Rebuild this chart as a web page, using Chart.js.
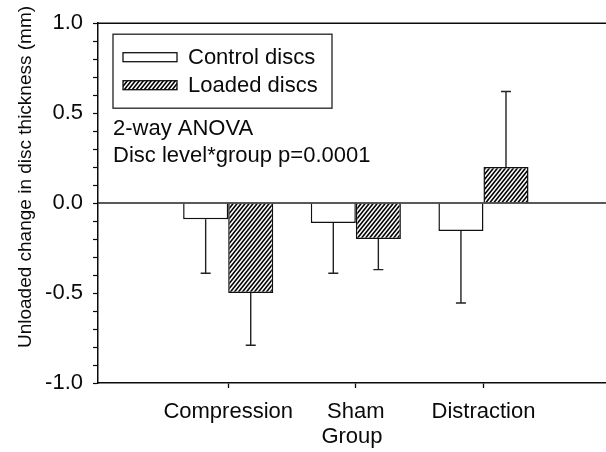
<!DOCTYPE html>
<html>
<head>
<meta charset="utf-8">
<script src="https://cdn.jsdelivr.net/npm/chart.js@4"></script>
<style>
  html, body { margin: 0; padding: 0; background: #ffffff; }
  #wrap { width: 606px; height: 452px; }
</style>
</head>
<body>
<div id="wrap"><canvas id="c" width="606" height="452"></canvas></div>
<script>
// ---- data ----
const categories = ['Compression', 'Sham', 'Distraction'];
const categoryPositions = [1, 2, 3];
const seriesLabels = ['Control discs', 'Loaded discs'];
const controlValues = [-0.09, -0.11, -0.155];
const controlErrors = [0.30, 0.28, 0.40];
const loadedValues = [-0.50, -0.20, 0.20];
const loadedErrors = [0.29, 0.17, 0.42];
const yMajorTicks = [-1.0, -0.5, 0.0, 0.5, 1.0];
const annotationLines = ['2-way ANOVA', 'Disc level*group p=0.0001'];
const yTitle = 'Unloaded change in disc thickness (mm)';
const xTitle = 'Group';

const FONT = '"Liberation Sans", Arial, Helvetica, sans-serif';
const INK = '#0a0a0a';

function makeHatch() {
  const w = 4, h = 5;
  const c = document.createElement('canvas');
  c.width = w; c.height = h;
  const g = c.getContext('2d');
  g.fillStyle = '#ffffff';
  g.fillRect(0, 0, w, h);
  g.strokeStyle = '#000000';
  g.lineWidth = 1.6;
  g.beginPath();
  g.moveTo(-w, 2 * h); g.lineTo(2 * w, -h);
  g.moveTo(-2 * w, 2 * h); g.lineTo(w, -h);
  g.moveTo(0, 2 * h); g.lineTo(3 * w, -h);
  g.stroke();
  return g.createPattern(c, 'repeat');
}
const hatch = makeHatch();

const isMajor = v => yMajorTicks.some(m => Math.abs(m - v) < 1e-6);

const decorPlugin = {
  id: 'decor',
  afterDatasetsDraw(chart) {
    const ctx = chart.ctx;
    const ca = chart.chartArea;
    const yScale = chart.scales.y;
    ctx.save();
    // zero line across the plot, drawn over the bar bases
    const y0line = yScale.getPixelForValue(0);
    ctx.strokeStyle = '#222';
    ctx.lineWidth = 1.5;
    ctx.beginPath();
    ctx.moveTo(ca.left, y0line);
    ctx.lineTo(ca.right, y0line);
    ctx.stroke();
    // one-sided error bars
    ctx.strokeStyle = '#222';
    ctx.lineWidth = 1.4;
    chart.data.datasets.forEach((ds, di) => {
      const meta = chart.getDatasetMeta(di);
      meta.data.forEach((el, i) => {
        const v = ds.data[i].y;
        const e = ds.errors[i];
        const end = v >= 0 ? v + e : v - e;
        const y0 = yScale.getPixelForValue(v);
        const y1 = yScale.getPixelForValue(end);
        ctx.beginPath();
        ctx.moveTo(el.x, y0);
        ctx.lineTo(el.x, y1);
        ctx.moveTo(el.x - 5, y1);
        ctx.lineTo(el.x + 5, y1);
        ctx.stroke();
      });
    });
    ctx.restore();
  },
  afterDraw(chart) {
    const ctx = chart.ctx;
    const ca = chart.chartArea;
    ctx.save();
    // top frame line
    ctx.strokeStyle = INK;
    ctx.lineWidth = 1.5;
    ctx.beginPath();
    ctx.moveTo(ca.left, ca.top);
    ctx.lineTo(ca.right, ca.top);
    ctx.stroke();

    // legend box
    const lx = ca.left + 15, ly = ca.top + 11, lw = 219, lh = 74;
    ctx.lineWidth = 1.3;
    ctx.strokeStyle = '#222';
    ctx.strokeRect(lx, ly, lw, lh);
    ctx.font = '22px ' + FONT;
    ctx.textBaseline = 'middle';
    ctx.textAlign = 'left';
    chart.data.datasets.forEach((ds, i) => {
      const cy = ly + 23 + i * 28;
      ctx.fillStyle = ds.backgroundColor;
      ctx.fillRect(lx + 10, cy - 4.5, 54, 9);
      ctx.strokeStyle = '#111';
      ctx.lineWidth = 1.3;
      ctx.strokeRect(lx + 10, cy - 4.5, 54, 9);
      ctx.fillStyle = INK;
      ctx.fillText(ds.label, lx + 75, cy + 1);
    });

    // annotation
    ctx.fillStyle = INK;
    ctx.font = '22px ' + FONT;
    annotationLines.forEach((t, i) => {
      ctx.fillText(t, ca.left + 15, ca.top + 106 + i * 27);
    });

    // y title
    ctx.save();
    ctx.translate(26, 177);
    ctx.rotate(-Math.PI / 2);
    ctx.textAlign = 'center';
    ctx.textBaseline = 'middle';
    ctx.font = '19px ' + FONT;
    ctx.fillText(yTitle, 0, 0);
    ctx.restore();

    ctx.restore();
  }
};

new Chart(document.getElementById('c'), {
  type: 'bar',
  data: {
    datasets: [
      {
        label: seriesLabels[0],
        data: categoryPositions.map((x, i) => ({ x: x, y: controlValues[i] })),
        errors: controlErrors,
        backgroundColor: '#ffffff',
        borderColor: '#111111',
        borderWidth: 1.5
      },
      {
        label: seriesLabels[1],
        data: categoryPositions.map((x, i) => ({ x: x, y: loadedValues[i] })),
        errors: loadedErrors,
        backgroundColor: hatch,
        borderColor: '#111111',
        borderWidth: 1.5
      }
    ]
  },
  options: {
    responsive: false,
    animation: false,
    layout: { padding: { top: 21, right: 0, left: 0, bottom: 0 } },
    datasets: { bar: { barPercentage: 1.0, categoryPercentage: 0.706 } },
    plugins: { legend: { display: false }, tooltip: { enabled: false } },
    scales: {
      x: {
        type: 'linear',
        min: -0.02,
        max: 3.96,
        offset: false,
        afterBuildTicks: s => { s.ticks = categoryPositions.map(v => ({ value: v })); },
        afterFit: s => { s.height = 69; },
        ticks: {
          autoSkip: false,
          maxRotation: 0,
          padding: 11,
          color: INK,
          font: { family: FONT, size: 22 },
          callback: v => categories[categoryPositions.indexOf(v)]
        },
        grid: { drawOnChartArea: false, drawTicks: true, tickLength: 5, tickColor: INK, tickWidth: 1.3, offset: false },
        border: { display: true, color: INK, width: 1.5 },
        title: { display: true, text: xTitle, color: INK, font: { family: FONT, size: 22 }, padding: { top: 0, bottom: 2 } }
      },
      y: {
        min: -1,
        max: 1,
        afterFit: s => { s.width = 98; },
        ticks: {
          stepSize: 0.1,
          autoSkip: false,
          padding: 10,
          color: INK,
          font: { family: FONT, size: 22 },
          callback: v => isMajor(v) ? Number(v).toFixed(1) : ''
        },
        grid: {
          color: 'rgba(0,0,0,0)',
          drawTicks: true,
          tickLength: 5,
          tickColor: INK,
          tickWidth: 1.2
        },
        border: { display: true, color: INK, width: 1.5 }
      }
    }
  },
  plugins: [decorPlugin]
});
</script>
</body>
</html>
